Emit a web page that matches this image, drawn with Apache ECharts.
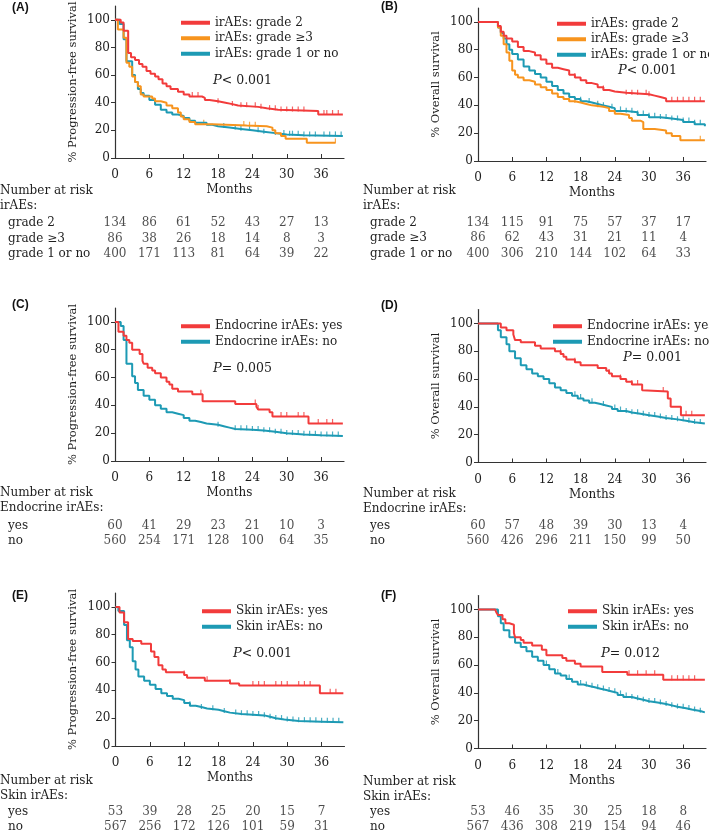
<!DOCTYPE html>
<html>
<head>
<meta charset="utf-8">
<script src="https://cdn.jsdelivr.net/npm/echarts@6/dist/echarts.min.js"></script>
<style>
  html, body { margin: 0; padding: 0; background: #fff; }
  #main { width: 709px; height: 832px; }
</style>
</head>
<body>
<div id="main"></div>
<script>
  // ---- data ----
  const monthTicks = [0, 6, 12, 18, 24, 30, 36];
  const pctTicks = [0, 20, 40, 60, 80, 100];

  // Kaplan-Meier steps: [month, % surviving from that month on]
  const pfsG2 = [[0,100],[1,98],[1.5,92],[2.3,76],[2.8,73],[3.5,71],[4.2,68],[4.8,66],[5.5,63],[6.2,61],[7,59],[7.6,57],[8.3,54],[9,52],[9.7,50],[11,48],[12,46],[13,44.5],[15.2,43.5],[15.7,42],[16.5,41],[18,40],[19.3,39],[20.5,38],[21.5,37],[25,36],[26.5,35],[28.5,34],[35.5,31.5],[39.8,31.5]];
  const pfsG3 = [[0,100],[0.5,93],[1.5,87],[2,69],[2.5,66],[3,59],[3.5,55],[4,52],[4.5,46],[5,44.5],[6.5,43],[7,41],[8,40],[9,38],[10,36],[11,33],[11.5,30],[12,28],[13,26],[14,24.5],[17,23.5],[23,23],[26.5,22],[27.5,20],[28,18],[29,16],[29.8,14],[33.5,11],[38.5,11]];
  const pfsG1 = [[0,100],[0.8,97],[1.5,86],[2,70],[3,60],[3.5,55],[4,50],[4.5,47],[5,45],[6,42],[7,38.5],[8,35],[9,33],[10,31.5],[11,30.5],[12,29],[13,27],[14,25.5],[16,24],[17,23],[18,22],[20,21],[22,20],[24,19],[26,18],[28,17],[30,16.5],[33,16],[39.8,16]];
  const osG2 = [[0,100],[3,100],[3.5,97],[4,93],[4.5,90],[5,88],[6,86],[7,82],[8,79],[9,78],[10,76],[11,73],[12,70],[13,67],[14,66],[15,65],[16,62],[17,60],[18,58],[19,56],[20,55],[21,53],[22,51],[23,50],[24,49],[26,48],[30,47],[31,46],[32,45],[33,43],[39.8,43]];
  const osG3 = [[0,100],[3,100],[3.5,96],[4,90],[4.5,84],[5,78],[5.5,72],[6,65],[6.5,62],[7,60],[8,58],[9,57],[10,55],[11,53],[12,51],[13,48.5],[14,46],[15,44.5],[16,43],[17,42],[18,41],[19,40],[20,39],[22,38],[23,36],[24,34],[25,33],[26.5,31],[27,29],[28.5,28],[29,23],[31,22],[33,20],[34,18],[35.5,15],[39.8,15]];
  const osG1 = [[0,100],[3,100],[3.5,96],[4,92],[4.5,88],[5,84],[5.5,80],[6,77],[7,73],[8,68],[9,65],[10,62.5],[11,60],[12,57],[13,54],[14,51],[15,48.5],[16,46],[17,44.5],[18,43],[19,42],[20,41],[21,40],[22,39],[23,38],[24,36],[26,35],[28,33],[30,31.5],[32,30.5],[34,29.5],[36,28],[38,26.5],[39.8,25]];
  const pfsEndoYes = [[0,100],[0.6,93],[1.5,90],[2,87],[2.5,85],[3,80],[4.3,77],[4.8,72],[5,70],[5.7,67],[6.5,65],[7,63],[8,60],[9,57],[9.5,55],[10,52],[11,50],[13.5,48],[15.3,43],[21,41],[24.7,39],[25,37],[27,35],[27.5,32],[33.8,27],[39.8,27]];
  const pfsEndoNo = [[0,100],[1,97],[1.5,87],[2,70],[3,61],[3.5,56],[4,51],[5,47],[6,44],[7,40],[8,37.5],[9,35],[10,34],[11,33],[12,31],[13,29],[14,28],[15,27],[16,26],[18,25],[19,24],[20,23],[21,22.5],[24,22],[26,21],[28,20],[30,19],[33,18.5],[36,18],[39.8,17.5]];
  const osEndoYes = [[0,100],[4,97],[5,95],[6.2,92],[6.5,88],[7.5,86.5],[10,84],[11,82],[13.5,80],[14.5,78],[15,76],[15.5,74],[17,72],[18,70],[21,68],[22.5,66],[23,64],[23.5,62],[25,60],[26,58],[27,56],[28.8,52],[29,51],[33.3,46],[33.8,40],[35.6,34],[39.8,34]];
  const osEndoNo = [[0,100],[3,100],[3.5,95],[4,90],[5,85],[5.5,80],[6.5,75],[7.5,70],[8.5,67],[9.5,64],[10.5,62],[11.5,60],[12.5,57],[13.5,54],[14.5,52],[15.5,50],[16.5,48],[17.5,46],[18.5,44.5],[19.5,43],[20.5,42],[21.5,41],[22.5,40],[23.5,38.5],[24.5,37],[26,36],[27,35],[28.5,34],[30,33],[31.5,32],[33,31],[35,30],[36.5,29],[38,28],[39.8,27.5]];
  const pfsSkinYes = [[0,100],[0.7,96],[1.5,89],[2.2,77],[3,75.5],[4.5,73.5],[6.2,68],[6.8,64],[7.5,58],[8.2,55],[8.8,53],[12,51],[12.5,49],[15.6,47],[20,45],[21.6,43.5],[35.7,38],[39.8,38]];
  const pfsSkinNo = [[0,100],[0.5,97],[1.5,87],[2,76],[2.5,71],[3,61],[3.5,55],[4,50],[5,47],[6,44],[7,41],[8,38],[9,36],[10,34],[11,33],[12,31],[13,29],[14,28],[15,27],[16,26],[18,25],[19,24],[20,23],[22,22.5],[24,22],[26,21],[27,20],[28,19],[29.5,18],[32,17.5],[36,17],[39.8,16.5]];
  const osSkinYes = [[0,100],[3,100],[3.2,98],[3.5,96],[4.3,93],[4.8,90],[5.5,89],[6.3,83],[6.5,80],[7.5,78],[8,76],[9.5,74],[11.2,71],[12,67],[14.8,65],[15.5,63],[17,61],[18,59],[21.8,55],[26.2,53],[32.5,49.5],[39.8,49.5]];
  const osSkinNo = [[0,100],[3,100],[3.5,95],[4,90],[4.5,85],[5.5,80],[6.5,76],[7.5,73],[8.5,70],[9.5,66],[10.5,63],[11.5,60],[12.5,57],[13.5,54],[14.5,52.5],[15.5,50],[16.5,48],[17.5,46],[18.5,45],[19.5,44],[20.5,43],[21.5,42],[22.5,41],[23.5,40],[24.5,38.5],[25.5,37],[27,36],[28,35],[29,34],[30,33],[31.5,32],[33,31],[34,30],[35,29],[36.5,28],[37.5,27],[39,26],[39.8,26]];

  // censoring times (months)
  const cPfsG2 = [13.5,14.5,18,20.5,22,23,24.5,25.5,27,28,29,30,31,32,33,36.5,37,38,39];
  const cPfsG3 = [15.5,22.5,23.5,24.5,38.5];
  const cPfsG1 = [19,21,22,23.5,25,26,28,29.5,30.5,31,32,33,34,35,36.5,37.5,38.5,39.5];
  const cOsG2 = [17,22,26,27,28,29.5,30,34,35,36,37,38,39];
  const cOsG3 = [16,17,21,23,39];
  const cOsG1 = [18,19.5,21,22,23.5,25,26,27,28,29,30,31,32,33,34,35,36,37,38,39];
  const cPfsEndoYes = [15,24.5,25,29,30,32,33,35.5,37,38];
  const cPfsEndoNo = [18,21,22,23,24,25,26,27,28,29,30,31,32,33,34,35,36,37,38,39];
  const cOsEndoYes = [14.5,17,23,25,27,28,32.5,36.5,37.5];
  const cOsEndoNo = [17,18,20,22,24,25,26,27,28,29,30,31,32,33,34,35,36,37,38,39];
  const cPfsSkinYes = [12,16,20,24,25,26,28,29,30,32,33,34,37.5,38.5];
  const cPfsSkinNo = [13,15,17,19,21,22,23,24,25,26,27,28,29,30,31,32,33,34,35,36,37,38,39];
  const cOsSkinYes = [26.5,28,29.5,31,34,35,36,37,38];
  const cOsSkinNo = [12,14,16,18,19,20,21,22,23,24,25,26,27,28,29,30,31,32,33,34,35,36,37,38,39];

  // numbers at risk at 0, 6, ... 36 months
  const riskPfsG2 = [134, 86, 61, 52, 43, 27, 13];
  const riskPfsG3 = [86, 38, 26, 18, 14, 8, 3];
  const riskPfsG1 = [400, 171, 113, 81, 64, 39, 22];
  const riskOsG2 = [134, 115, 91, 75, 57, 37, 17];
  const riskOsG3 = [86, 62, 43, 31, 21, 11, 4];
  const riskOsG1 = [400, 306, 210, 144, 102, 64, 33];
  const riskPfsEndoYes = [60, 41, 29, 23, 21, 10, 3];
  const riskPfsEndoNo = [560, 254, 171, 128, 100, 64, 35];
  const riskOsEndoYes = [60, 57, 48, 39, 30, 13, 4];
  const riskOsEndoNo = [560, 426, 296, 211, 150, 99, 50];
  const riskPfsSkinYes = [53, 39, 28, 25, 20, 15, 7];
  const riskPfsSkinNo = [567, 256, 172, 126, 101, 59, 31];
  const riskOsSkinYes = [53, 46, 35, 30, 25, 18, 8];
  const riskOsSkinNo = [567, 436, 308, 219, 154, 94, 46];

  // ---- styling / layout ----
  const RED = "#f23b3b", ORANGE = "#f7941e", TEAL = "#1d9ab4";
  const INK = "#1e1e1e";
  const SERIF = "'DejaVu Serif', serif";
  const SANS = "'Liberation Sans', Arial, sans-serif";

  const panels = [
    { tag: "(A)", tagPos: [12, 2], ytitle: "% Progression-free survival",
      grid: { left: 115, top: 6, width: 229, height: 152 },
      risk: { top: 215.25, height: 46.5 }, rowLeft: 8, headLeft: 0, headTop: [185, 200],
      group: "irAEs:", legend: { left: 176, top: 10.5 }, p: { text: "< 0.001", left: 213, top: 74 },
      curves: [
        { name: "irAEs: grade 1 or no", row: "grade 1 or no", color: TEAL, km: pfsG1, cens: cPfsG1, risk: riskPfsG1 },
        { name: "irAEs: grade \u22653", row: "grade \u22653", color: ORANGE, km: pfsG3, cens: cPfsG3, risk: riskPfsG3 },
        { name: "irAEs: grade 2", row: "grade 2", color: RED, km: pfsG2, cens: cPfsG2, risk: riskPfsG2 },
      ] },
    { tag: "(B)", tagPos: [381, 1], ytitle: "% Overall survival",
      grid: { left: 478, top: 8, width: 228, height: 153 },
      risk: { top: 215, height: 46.5 }, rowLeft: 370, headLeft: 363, headTop: [185, 200],
      group: "irAEs:", legend: { left: 552, top: 11.5 }, p: { text: "< 0.001", left: 618, top: 64 },
      curves: [
        { name: "irAEs: grade 1 or no", row: "grade 1 or no", color: TEAL, km: osG1, cens: cOsG1, risk: riskOsG1 },
        { name: "irAEs: grade \u22653", row: "grade \u22653", color: ORANGE, km: osG3, cens: cOsG3, risk: riskOsG3 },
        { name: "irAEs: grade 2", row: "grade 2", color: RED, km: osG2, cens: cOsG2, risk: riskOsG2 },
      ] },
    { tag: "(C)", tagPos: [12, 299], ytitle: "% Progression-free survival",
      grid: { left: 115, top: 308, width: 229, height: 153 },
      risk: { top: 518.5, height: 30 }, rowLeft: 8, headLeft: 0, headTop: [487, 502],
      group: "Endocrine irAEs:", legend: { left: 176, top: 314 }, p: { text: "= 0.005", left: 213, top: 362 },
      curves: [
        { name: "Endocrine irAEs: no", row: "no", color: TEAL, km: pfsEndoNo, cens: cPfsEndoNo, risk: riskPfsEndoNo },
        { name: "Endocrine irAEs: yes", row: "yes", color: RED, km: pfsEndoYes, cens: cPfsEndoYes, risk: riskPfsEndoYes },
      ] },
    { tag: "(D)", tagPos: [381, 300], ytitle: "% Overall survival",
      grid: { left: 478, top: 309.5, width: 228, height: 153 },
      risk: { top: 518.5, height: 30 }, rowLeft: 370, headLeft: 363, headTop: [488, 503],
      group: "Endocrine irAEs:", legend: { left: 548, top: 314 }, p: { text: "= 0.001", left: 623, top: 351 },
      curves: [
        { name: "Endocrine irAEs: no", row: "no", color: TEAL, km: osEndoNo, cens: cOsEndoNo, risk: riskOsEndoNo },
        { name: "Endocrine irAEs: yes", row: "yes", color: RED, km: osEndoYes, cens: cOsEndoYes, risk: riskOsEndoYes },
      ] },
    { tag: "(E)", tagPos: [12, 590], ytitle: "% Progression-free survival",
      grid: { left: 115.5, top: 593, width: 229, height: 153 },
      risk: { top: 804.5, height: 30 }, rowLeft: 8, headLeft: 0, headTop: [775, 790],
      group: "Skin irAEs:", legend: { left: 197, top: 599 }, p: { text: "< 0.001", left: 233, top: 647 },
      curves: [
        { name: "Skin irAEs: no", row: "no", color: TEAL, km: pfsSkinNo, cens: cPfsSkinNo, risk: riskPfsSkinNo },
        { name: "Skin irAEs: yes", row: "yes", color: RED, km: pfsSkinYes, cens: cPfsSkinYes, risk: riskPfsSkinYes },
      ] },
    { tag: "(F)", tagPos: [381, 590], ytitle: "% Overall survival",
      grid: { left: 478, top: 595.5, width: 228, height: 153 },
      risk: { top: 804.5, height: 30 }, rowLeft: 370, headLeft: 363, headTop: [776, 791],
      group: "Skin irAEs:", legend: { left: 563, top: 599 }, p: { text: "= 0.012", left: 601, top: 647 },
      curves: [
        { name: "Skin irAEs: no", row: "no", color: TEAL, km: osSkinNo, cens: cOsSkinNo, risk: riskOsSkinNo },
        { name: "Skin irAEs: yes", row: "yes", color: RED, km: osSkinYes, cens: cOsSkinYes, risk: riskOsSkinYes },
      ] },
  ];

  // survival level of a step curve at month t
  const stepAt = (km, t) => {
    let v = km[0][1];
    for (const [x, y] of km) if (x <= t) v = y;
    return v;
  };

  const grids = [], xAxes = [], yAxes = [], series = [], legends = [], graphics = [];

  panels.forEach((p, i) => {
    const gi = i * 2, ri = i * 2 + 1;
    // plot grid
    grids.push({ ...p.grid, containLabel: false, outerBoundsMode: "none" });
    xAxes.push({
      gridIndex: gi, type: "value", min: 0, max: 40,
      name: "Months", nameLocation: "middle", nameGap: 26,
      nameTextStyle: { fontFamily: SERIF, fontSize: 12, color: INK },
      axisLine: { lineStyle: { color: "#333", width: 1.2 } },
      axisTick: { inside: true, length: 4, customValues: monthTicks, lineStyle: { color: "#333" } },
      axisLabel: { customValues: monthTicks, margin: 11, fontFamily: SERIF, fontSize: 12, color: INK },
      splitLine: { show: false },
    });
    yAxes.push({
      gridIndex: gi, type: "value", min: 0, max: 110,
      name: p.ytitle, nameLocation: "middle", nameGap: 36,
      nameTextStyle: { fontFamily: SERIF, fontSize: 11.5, color: INK },
      axisLine: { show: true, lineStyle: { color: "#333", width: 1.2 } },
      axisTick: { show: true, length: 4, customValues: pctTicks, lineStyle: { color: "#333" } },
      axisLabel: { customValues: pctTicks, margin: 5, fontFamily: SERIF, fontSize: 12, color: INK },
      splitLine: { show: false },
    });
    // risk table grid
    const rows = p.curves.map((c) => c.row).reverse();
    grids.push({ left: p.grid.left, width: p.grid.width, top: p.risk.top, height: p.risk.height,
      containLabel: false, outerBoundsMode: "none" });
    xAxes.push({ gridIndex: ri, type: "value", min: 0, max: 40, show: false });
    yAxes.push({
      gridIndex: ri, type: "category", data: rows, inverse: true,
      axisLine: { show: false }, axisTick: { show: false },
      axisLabel: { interval: 0, align: "left", margin: p.grid.left - p.rowLeft,
        fontFamily: SERIF, fontSize: 12, color: INK },
    });

    p.curves.forEach((c) => {
      series.push({
        name: c.name, type: "line", step: "end", xAxisIndex: gi, yAxisIndex: gi,
        data: c.km, showSymbol: false, symbol: "none",
        lineStyle: { color: c.color, width: 2 }, itemStyle: { color: c.color },
      });
      series.push({
        name: "censor", type: "scatter", xAxisIndex: gi, yAxisIndex: gi,
        data: c.cens.map((t) => [t, stepAt(c.km, t)]),
        symbol: "rect", symbolSize: [1.2, 5], symbolOffset: [0, -2],
        itemStyle: { color: c.color }, silent: true,
      });
    });
    series.push({
      name: "risk", type: "scatter", xAxisIndex: ri, yAxisIndex: ri,
      symbol: "circle", symbolSize: 1, itemStyle: { color: "rgba(0,0,0,0)" },
      label: { show: true, position: "inside", formatter: (d) => d.value[2],
        fontFamily: SERIF, fontSize: 12, color: INK },
      data: p.curves.flatMap((c) => c.risk.map((n, k) => [monthTicks[k], c.row, n])),
    });

    legends.push({
      data: p.curves.map((c) => c.name).reverse(),
      orient: "vertical", left: p.legend.left, top: p.legend.top,
      icon: "rect", itemWidth: 29, itemHeight: 4, itemGap: 1, selectedMode: false,
      textStyle: { fontFamily: SERIF, fontSize: 12, color: INK, lineHeight: 14.5 },
    });

    graphics.push(
      { type: "text", left: p.tagPos[0], top: p.tagPos[1],
        style: { text: p.tag, font: "bold 12px " + SANS, fill: "#111" } },
      { type: "text", left: p.p.left, top: p.p.top,
        style: { text: "{i|P}" + p.p.text, font: "12.5px " + SERIF, fill: INK,
          rich: { i: { fontStyle: "italic", fontFamily: SERIF, fontSize: 13, fill: INK } } } },
      { type: "text", left: p.headLeft, top: p.headTop[0],
        style: { text: "Number at risk", font: "12px " + SERIF, fill: INK } },
      { type: "text", left: p.headLeft, top: p.headTop[1],
        style: { text: p.group, font: "12px " + SERIF, fill: INK } }
    );
  });

  const chart = echarts.init(document.getElementById("main"), null, { renderer: "canvas" });
  chart.setOption({
    animation: false,
    backgroundColor: "#fff",
    textStyle: { fontFamily: SERIF },
    grid: grids, xAxis: xAxes, yAxis: yAxes,
    legend: legends, series: series, graphic: graphics,
  });
</script>
</body>
</html>
